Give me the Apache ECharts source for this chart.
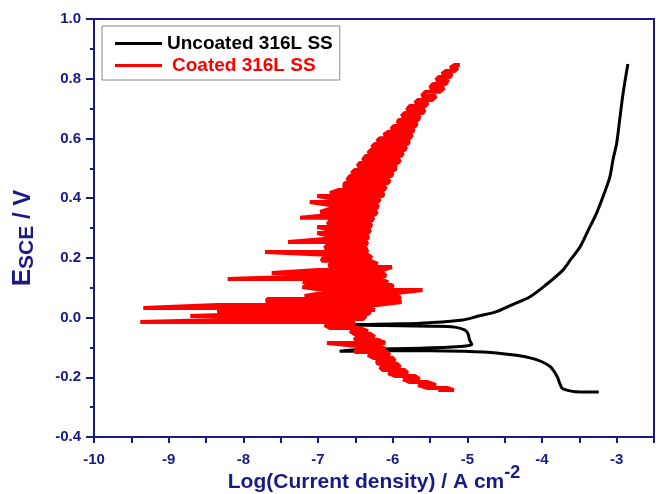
<!DOCTYPE html>
<html>
<head>
<meta charset="utf-8">
<script src="https://cdn.jsdelivr.net/npm/echarts@6/dist/echarts.min.js"></script>
<style>
  html, body { margin: 0; padding: 0; background: #fff; }
  #chart { width: 660px; height: 494px; }
</style>
</head>
<body>
<div id="chart"></div>
<script>
// uncoated 316L SS, scan from cathodic end to anodic end
const uncoatedLogI = [
  -3.24, -3.49, -3.72, -3.76, -3.80, -3.90, -4.16, -4.61, -5.06, -5.50,
  -5.90, -6.44, -6.71, -6.44, -5.64, -5.10, -4.94, -4.97, -4.99, -5.03,
  -5.17, -5.50, -5.90, -6.37, -6.51, -5.90, -5.50, -5.06, -4.85, -4.61,
  -4.41, -4.16, -3.95, -3.72, -3.62, -3.49, -3.38, -3.27, -3.165, -3.09,
  -3.05, -3.00, -2.96, -2.914, -2.85
]
const uncoatedE = [
  -0.249, -0.249, -0.239, -0.222, -0.196, -0.162, -0.135, -0.119, -0.113, -0.111,
  -0.111, -0.112, -0.113, -0.107, -0.103, -0.097, -0.090, -0.075, -0.055, -0.042,
  -0.032, -0.029, -0.027, -0.026, -0.024, -0.021, -0.017, -0.008, 0.005, 0.020,
  0.042, 0.070, 0.109, 0.159, 0.193, 0.237, 0.293, 0.349, 0.417, 0.472,
  0.528, 0.584, 0.662, 0.751, 0.849
]

// coated 316L SS: noisy trace, one row per potential level (left / right extent)
const coatedE = [
  -0.243, -0.236, -0.226, -0.216, -0.206, -0.196, -0.186, -0.176, -0.166, -0.155,
  -0.145, -0.135, -0.125, -0.115, -0.105, -0.095, -0.085, -0.075, -0.065, -0.055,
  -0.045, -0.035, -0.025, -0.015, -0.005, 0.005, 0.012, 0.019, 0.025, 0.032,
  0.042, 0.052, 0.062, 0.072, 0.082, 0.092, 0.102, 0.109, 0.119, 0.129,
  0.139, 0.149, 0.159, 0.169, 0.180, 0.190, 0.200, 0.210, 0.220, 0.233,
  0.243, 0.253, 0.263, 0.273, 0.283, 0.293, 0.303, 0.313, 0.324, 0.334,
  0.344, 0.354, 0.367, 0.377, 0.387, 0.397, 0.407, 0.417, 0.427, 0.437,
  0.451, 0.461, 0.474, 0.484, 0.494, 0.508, 0.518, 0.528, 0.541, 0.551,
  0.561, 0.571, 0.581, 0.591, 0.601, 0.612, 0.622, 0.632, 0.642, 0.652,
  0.662, 0.675, 0.685, 0.695, 0.709, 0.719, 0.729, 0.742, 0.756, 0.769,
  0.782, 0.796, 0.806, 0.816, 0.826, 0.836, 0.846
]
const coatedLeft = [
  -5.39, -5.53, -5.66, -5.77, -5.86, -5.96, -6.06, -6.13, -6.17, -6.20,
  -6.21, -6.26, -6.33, -6.51, -6.47, -6.47, -6.88, -6.51, -6.48, -6.51,
  -6.57, -6.84, -6.91, -9.38, -7.78, -8.71, -7.84, -8.35, -8.18, -9.34,
  -8.35, -7.68, -7.68, -7.18, -6.93, -6.93, -7.21, -7.11, -7.20, -8.21,
  -6.97, -7.62, -7.00, -6.84, -6.84, -6.95, -6.93, -6.89, -7.71, -6.91,
  -6.87, -7.40, -6.91, -6.84, -7.01, -6.83, -7.01, -6.87, -6.84, -7.24,
  -6.81, -6.97, -6.80, -6.84, -7.11, -6.77, -7.01, -6.84, -6.73, -6.65,
  -6.64, -6.61, -6.57, -6.55, -6.51, -6.47, -6.44, -6.40, -6.36, -6.33,
  -6.29, -6.28, -6.24, -6.21, -6.17, -6.12, -6.06, -6.02, -5.98, -5.93,
  -5.92, -5.88, -5.84, -5.81, -5.77, -5.70, -5.66, -5.61, -5.56, -5.50,
  -5.46, -5.42, -5.38, -5.34, -5.29, -5.23, -5.17
]
const coatedRight = [
  -5.18, -5.27, -5.42, -5.53, -5.64, -5.70, -5.80, -5.84, -5.90, -5.94,
  -5.97, -6.00, -6.04, -6.08, -6.10, -6.17, -6.10, -6.20, -6.24, -6.30,
  -6.33, -6.44, -6.55, -6.51, -6.40, -6.36, -6.33, -6.30, -6.24, -6.30,
  -6.21, -5.88, -5.90, -5.92, -5.94, -5.60, -6.00, -6.01, -6.06, -6.17,
  -6.09, -6.13, -6.14, -6.01, -6.20, -6.30, -6.28, -6.33, -6.34, -6.36,
  -6.36, -6.34, -6.34, -6.33, -6.33, -6.30, -6.30, -6.29, -6.28, -6.26,
  -6.24, -6.21, -6.21, -6.20, -6.20, -6.17, -6.13, -6.13, -6.12, -6.09,
  -6.06, -6.04, -6.02, -6.00, -5.97, -5.96, -5.93, -5.90, -5.89, -5.86,
  -5.84, -5.82, -5.80, -5.78, -5.77, -5.74, -5.73, -5.72, -5.69, -5.68,
  -5.66, -5.64, -5.60, -5.57, -5.56, -5.53, -5.47, -5.42, -5.37, -5.31,
  -5.29, -5.26, -5.23, -5.21, -5.17, -5.13, -5.10
]

const uncoatedData = uncoatedLogI.map((x, i) => [x, uncoatedE[i]])
const coatedData = []
coatedE.forEach((e, i) => {
  if (i % 2 === 0) {
    coatedData.push([coatedLeft[i], e], [coatedRight[i], e])
  } else {
    coatedData.push([coatedRight[i], e], [coatedLeft[i], e])
  }
})

const navy = '#1a1a84'
const font = 'Liberation Sans, Arial, sans-serif'

const chart = echarts.init(document.getElementById('chart'))
chart.setOption({
  animation: false,
  grid: {
    left: 94, right: 6, top: 19, bottom: 57,
    outerBoundsMode: 'none',
    show: true, borderColor: navy, borderWidth: 2
  },
  legend: {
    left: 102, top: 26,
    orient: 'vertical',
    padding: [8, 7, 5, 13],
    itemGap: 3,
    itemWidth: 47,
    itemHeight: 3,
    icon: 'rect',
    borderColor: '#888',
    borderWidth: 1,
    textStyle: { fontSize: 19, fontWeight: 'bold', fontFamily: font, lineHeight: 18 },
    data: [
      { name: 'Uncoated 316L SS', textStyle: { color: '#000' } },
      { name: 'Coated 316L SS', textStyle: { color: '#ff0000', padding: [0, 0, 0, 5] } }
    ]
  },
  xAxis: {
    type: 'value',
    min: -10,
    max: -2.5,
    interval: 0.5,
    axisLine: { onZero: false, lineStyle: { color: navy, width: 2 } },
    axisTick: { length: 6, lineStyle: { color: navy, width: 2 } },
    axisLabel: {
      margin: 15, color: navy, fontWeight: 'bold', fontSize: 15, fontFamily: font,
      formatter: v => Number.isInteger(v) ? String(v) : ''
    },
    splitLine: { show: false },
    name: '{a|Log(Current density) / A cm}{s|-2}',
    nameLocation: 'middle',
    nameGap: 27,
    nameMoveOverlap: false,
    nameTextStyle: {
      rich: {
        a: { fontSize: 21, fontWeight: 'bold', color: navy, fontFamily: font, lineHeight: 36 },
        s: { fontSize: 18, fontWeight: 'bold', color: navy, fontFamily: font, lineHeight: 14, verticalAlign: 'top' }
      }
    }
  },
  yAxis: {
    type: 'value',
    min: -0.4,
    max: 1.0,
    interval: 0.2,
    axisLine: { onZero: false, lineStyle: { color: navy, width: 2 } },
    axisTick: { length: 8, lineStyle: { color: navy, width: 2 } },
    minorTick: { show: true, splitNumber: 2, length: 4, lineStyle: { color: navy, width: 2 } },
    axisLabel: {
      margin: 13, color: navy, fontWeight: 'bold', fontSize: 15, fontFamily: font,
      formatter: v => v.toFixed(1)
    },
    splitLine: { show: false },
    name: '{e|E}{s|SCE}{v| / V}',
    nameLocation: 'middle',
    nameRotate: 90,
    nameGap: 56,
    nameMoveOverlap: false,
    nameTextStyle: {
      padding: [0, 20, 0, 0],
      rich: {
        e: { fontSize: 26, fontWeight: 'bold', color: navy, fontFamily: font, lineHeight: 30 },
        s: { fontSize: 21, fontWeight: 'bold', color: navy, fontFamily: font, lineHeight: 22, verticalAlign: 'bottom' },
        v: { fontSize: 24, fontWeight: 'bold', color: navy, fontFamily: font, lineHeight: 30 }
      }
    }
  },
  series: [
    {
      name: 'Uncoated 316L SS',
      type: 'line',
      data: uncoatedData,
      showSymbol: false,
      smooth: 0.3,
      color: '#000',
      lineStyle: { color: '#000', width: 3 }
    },
    {
      name: 'Coated 316L SS',
      type: 'line',
      data: coatedData,
      showSymbol: false,
      color: '#ff0000',
      lineStyle: { color: '#ff0000', width: 4 }
    }
  ]
})
</script>
</body>
</html>
